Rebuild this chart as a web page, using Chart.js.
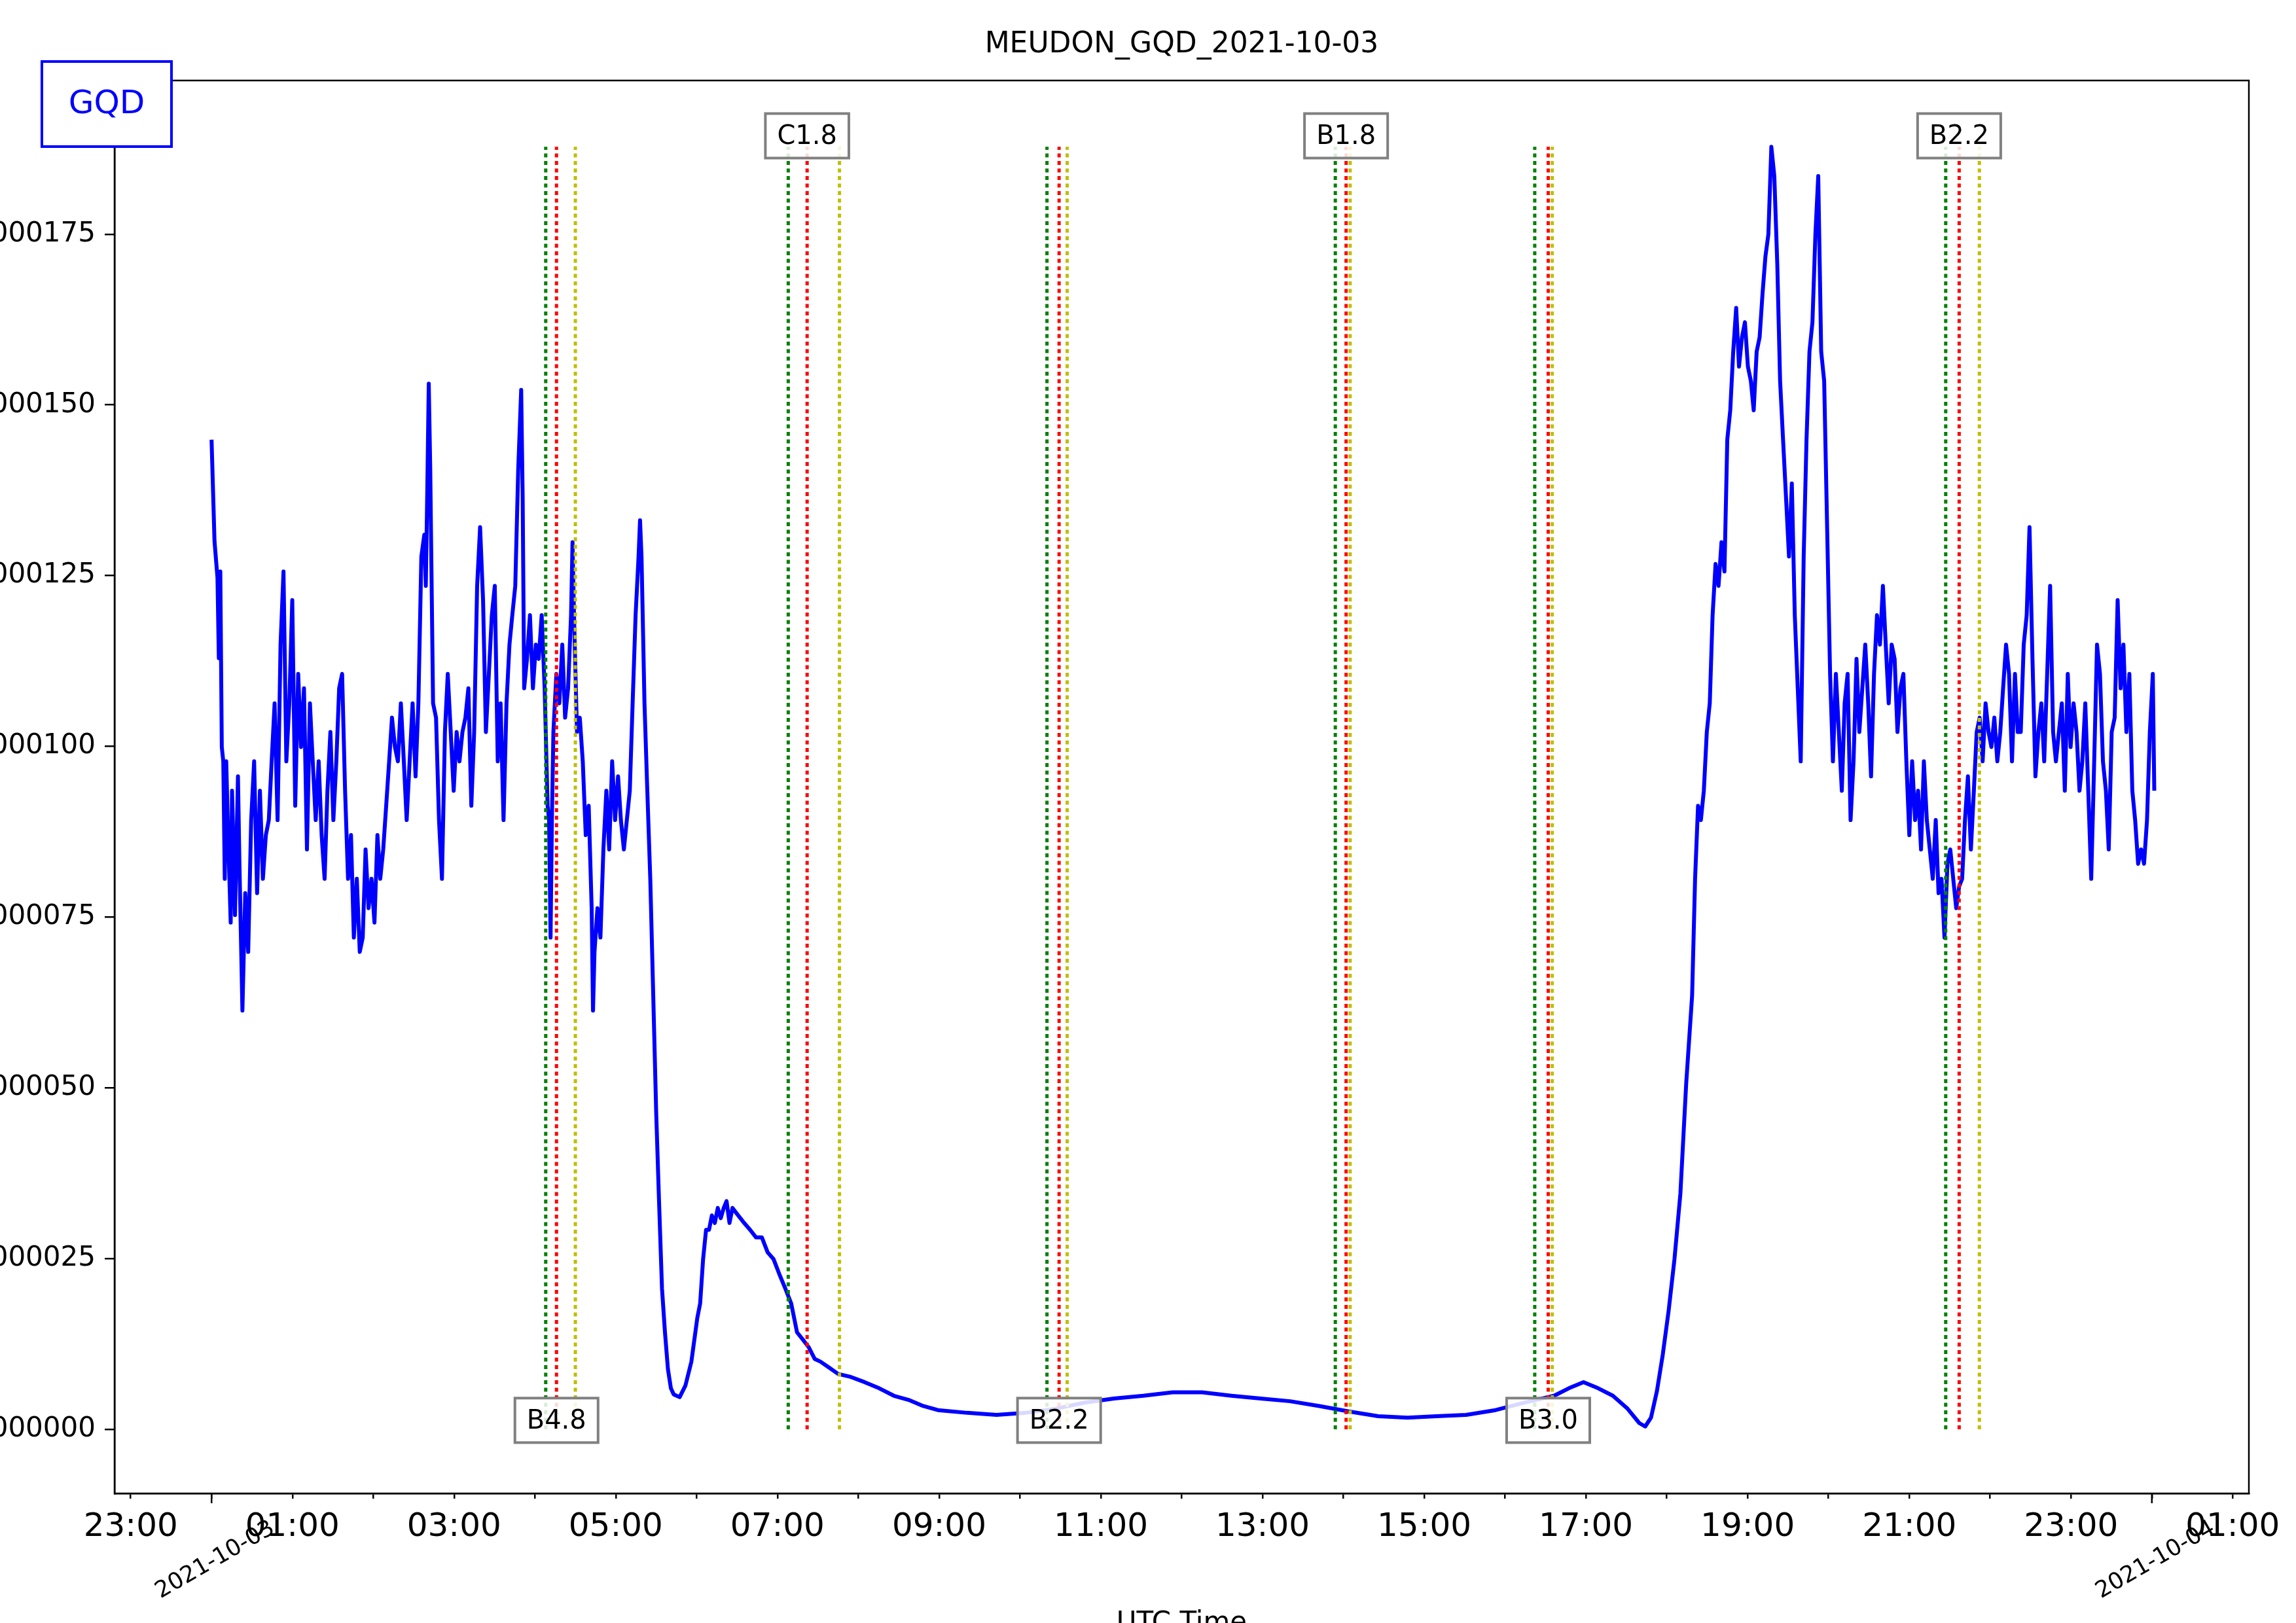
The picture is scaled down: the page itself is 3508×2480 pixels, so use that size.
<!DOCTYPE html>
<html><head><meta charset="utf-8">
<script src="https://cdn.jsdelivr.net/npm/chart.js@4/dist/chart.umd.min.js"></script>
<style>html,body{margin:0;padding:0;background:#fff}#wrap{width:3508px;height:2480px}</style>
</head><body><div id="wrap"><canvas id="c" width="3508" height="2480"></canvas></div>
<script>
// time in minutes since 2021-10-03 00:00 UTC
const timeMin = [0,2.2,4.4,5.4,6.5,7.6,8.7,9.8,10.9,12.0,14.2,15.2,16.3,17.4,19.6,20.7,22.9,25.0,27.2,29.4,31.6,33.8,35.9,38.1,40.3,42.5,44.6,46.8,49.0,51.2,53.4,55.5,57.7,59.9,62.1,64.3,66.4,68.6,70.8,73.0,75.1,77.3,79.5,81.7,83.9,86.0,88.2,90.4,92.6,94.7,96.9,99.1,101.3,103.5,105.6,107.8,110.0,112.2,114.3,116.5,118.7,120.9,123.1,125.2,127.4,129.6,131.8,133.9,136.1,138.3,140.5,142.7,144.8,147.0,149.2,151.4,153.5,155.7,157.9,159.0,160.1,161.2,162.3,164.4,166.6,168.8,171.0,173.2,175.3,177.5,179.7,181.9,184.0,186.2,188.4,190.6,192.8,194.9,197.1,199.3,201.5,203.6,205.8,208.0,210.2,212.4,214.5,216.7,218.9,221.1,223.2,225.4,227.6,229.8,230.9,232.0,234.1,236.3,238.5,240.7,242.8,245.0,247.2,249.4,250.5,251.6,252.6,253.7,255.9,258.1,260.3,262.4,264.6,266.8,267.9,269.0,271.2,273.3,275.5,277.7,279.9,282.1,283.1,284.2,286.4,288.6,290.8,293.0,295.1,297.3,299.5,301.7,303.8,306.0,308.2,310.4,312.5,314.7,316.9,318.0,319.1,321.3,323.4,325.6,327.8,330.0,332.1,334.3,336.5,338.7,340.9,343.0,347.4,351.7,356.1,360.5,362.6,364.8,367.0,369.2,371.3,373.5,375.7,377.9,380.1,382.2,384.4,386.6,390.9,395.3,399.7,404.0,408.4,412.7,417.1,421.4,425.8,430.2,434.5,438.9,443.2,447.6,451.9,458.5,465.0,473.7,484.6,495.5,506.4,517.3,528.2,539.1,560.8,582.6,604.4,626.2,648.0,669.7,691.5,713.3,735.1,756.9,778.6,800.4,822.2,844.0,865.8,887.5,909.3,931.1,952.9,974.7,996.4,1007.3,1018.2,1029.1,1040.0,1050.9,1059.6,1064.0,1068.3,1072.7,1077.0,1081.4,1085.7,1090.1,1094.4,1098.8,1101.0,1103.2,1105.3,1107.5,1109.7,1111.9,1114.0,1116.2,1118.4,1120.6,1122.8,1124.9,1127.1,1129.3,1131.5,1133.6,1135.8,1138.0,1140.2,1142.4,1144.5,1146.7,1148.9,1151.1,1153.2,1155.4,1157.6,1159.8,1162.0,1164.1,1166.3,1168.5,1170.7,1172.8,1175.0,1177.2,1179.4,1181.6,1183.7,1185.9,1188.1,1190.3,1192.4,1194.6,1196.8,1199.0,1201.2,1203.3,1205.5,1207.7,1209.9,1212.0,1214.2,1216.4,1218.6,1220.8,1222.9,1225.1,1227.3,1229.5,1231.6,1233.8,1236.0,1238.2,1240.4,1242.5,1244.7,1246.9,1249.1,1251.2,1253.4,1255.6,1257.8,1260.0,1262.1,1264.3,1266.5,1268.7,1270.8,1273.0,1275.2,1277.4,1279.6,1281.7,1283.9,1286.1,1288.3,1290.4,1292.6,1294.8,1297.0,1299.2,1301.3,1303.5,1305.7,1307.9,1310.0,1312.2,1314.4,1316.6,1318.8,1320.9,1323.1,1325.3,1327.5,1329.6,1331.8,1334.0,1336.2,1338.4,1340.5,1342.7,1344.9,1347.1,1349.2,1351.4,1353.6,1355.8,1358.0,1360.1,1362.3,1364.5,1366.7,1368.8,1371.0,1373.2,1375.4,1377.6,1379.7,1381.9,1384.1,1386.3,1388.4,1390.6,1392.8,1395.0,1397.2,1399.3,1401.5,1403.7,1405.9,1408.0,1410.2,1412.4,1414.6,1416.8,1418.9,1421.1,1423.3,1425.5,1427.6,1429.8,1432.0,1434.2,1436.4,1438.5,1440.7,1441.8];
// GQD signal, in units of 1e-6
const signalMicro = [144.9,130.0,124.7,112.9,125.6,99.9,97.8,80.6,97.8,89.2,74.2,93.5,84.9,75.3,95.6,82.8,61.3,78.5,69.9,89.2,97.8,78.5,93.5,80.6,87.0,89.2,97.8,106.3,89.2,114.9,125.6,97.8,106.3,121.4,91.3,110.6,99.9,108.5,84.9,106.3,97.8,89.2,97.8,87.0,80.6,93.5,102.1,89.2,97.8,108.5,110.6,93.5,80.6,87.0,72.0,80.6,69.9,72.0,84.9,76.3,80.6,74.2,87.0,80.6,84.9,91.3,97.8,104.2,99.9,97.8,106.3,97.8,89.2,97.8,106.3,95.6,106.3,127.8,131.0,123.5,137.4,153.1,140.6,106.3,104.2,89.2,80.6,102.1,110.6,102.1,93.5,102.1,97.8,102.1,104.2,108.5,91.3,102.1,123.5,132.1,121.4,102.1,110.6,119.2,123.5,97.8,106.3,89.2,106.3,114.9,119.2,123.5,140.6,152.2,136.4,108.5,112.8,119.2,108.5,114.9,112.8,119.2,108.5,91.3,89.2,72.0,89.2,102.1,110.6,106.3,114.9,104.2,108.5,119.2,129.9,119.2,102.1,104.2,97.8,87.0,91.3,76.3,61.3,69.9,76.3,72.0,84.9,93.5,84.9,97.8,89.2,95.6,89.2,84.9,89.2,93.5,106.3,119.2,127.8,133.1,127.8,106.3,93.5,80.6,63.5,46.3,33.4,20.6,14.2,8.8,6.0,5.1,4.7,6.4,9.9,16.3,18.4,24.9,29.2,29.2,31.3,30.2,32.4,30.9,32.4,33.4,30.2,32.4,31.3,30.2,29.2,28.1,28.1,25.9,24.9,22.7,20.6,18.4,14.2,13.1,12.0,10.3,9.9,9.0,8.1,7.7,6.9,6.0,4.9,4.3,3.4,2.8,2.4,2.1,2.4,3.0,3.9,4.5,4.9,5.4,5.4,4.9,4.5,4.1,3.4,2.6,1.9,1.7,1.9,2.1,2.8,3.9,4.9,6.0,6.9,6.0,4.9,3.0,0.9,0.4,1.7,5.6,10.9,17.4,24.9,34.5,50.6,63.5,80.6,91.3,89.2,93.5,102.1,106.3,119.2,126.7,123.5,129.9,125.6,144.9,149.2,157.8,164.2,155.6,159.9,162.1,155.6,153.5,149.2,157.8,159.9,166.4,171.7,175.0,187.8,183.5,170.7,153.5,144.9,136.4,127.8,138.5,119.2,108.5,97.8,127.8,144.9,157.8,162.1,175.0,183.5,157.8,153.5,132.1,110.6,97.8,110.6,102.1,93.5,106.3,110.6,89.2,97.8,112.8,102.1,108.5,114.9,106.3,95.6,110.6,119.2,114.9,123.5,114.9,106.3,114.9,112.8,102.1,108.5,110.6,97.8,87.0,97.8,89.2,93.5,84.9,97.8,89.2,84.9,80.6,89.2,78.5,80.6,72.0,82.8,84.9,80.6,76.3,79.5,80.6,89.2,95.6,84.9,93.5,102.1,104.2,97.8,106.3,102.1,99.9,104.2,97.8,102.1,108.5,114.9,110.6,97.8,110.6,102.1,102.1,114.9,119.2,132.1,112.8,95.6,102.1,106.3,97.8,110.6,123.5,102.1,97.8,102.1,106.3,93.5,110.6,99.9,106.3,102.1,93.5,97.8,106.3,93.5,80.6,97.8,114.9,110.6,97.8,93.5,84.9,102.1,104.2,121.4,108.5,114.9,102.1,110.6,93.5,89.2,82.8,84.9,82.8,89.2,102.1,110.6,93.5];
// Flare events: start (green), peak (red), end (yellow) in minutes; label and label placement
const flareClass = ['B4.8','C1.8','B2.2','B1.8','B3.0','B2.2'];
const flareStart = [248,428,620,834,982,1287];
const flarePeak  = [256,442,629,842,992,1297];
const flareEnd   = [270,466,635,845,995,1312];
const flareLabelPos = ['bottom','top','bottom','top','bottom','top'];
const yTicksMicro = [0,25,50,75,100,125,150,175];
const hourTicks = [-60,0,60,120,180,240,300,360,420,480,540,600,660,720,780,840,900,960,1020,1080,1140,1200,1260,1320,1380,1440,1500];
const dayLabels = ['2021-10-03','2021-10-04'];
const dayTicks = [0,1440];

const FONT = "'DejaVu Sans', sans-serif";
const points = timeMin.map((t,i)=>({x:t,y:signalMicro[i]}));

const deco = {
  id:'deco',
  afterDraw(chart){
    const ctx=chart.ctx, xs=chart.scales.x, ys=chart.scales.y, a=chart.chartArea;
    ctx.save();
    const lineTop = ys.getPixelForValue(187.8), lineBot = ys.getPixelForValue(0);
    const drawV=(t,col)=>{const x=xs.getPixelForValue(t);ctx.strokeStyle=col;ctx.lineWidth=5;ctx.setLineDash([6,5.5]);ctx.beginPath();ctx.moveTo(x,lineBot);ctx.lineTo(x,lineTop);ctx.stroke();};
    for(let i=0;i<flareClass.length;i++){drawV(flareStart[i],'#008000');drawV(flarePeak[i],'#ff0000');drawV(flareEnd[i],'#bfbf00');}
    ctx.setLineDash([]);
    ctx.font='40px '+FONT;ctx.textAlign='center';ctx.textBaseline='middle';
    for(let i=0;i<flareClass.length;i++){
      const x=xs.getPixelForValue(flarePeak[i]);
      const y=flareLabelPos[i]==='top'?ys.getPixelForValue(189.4):ys.getPixelForValue(1.3);
      const w=ctx.measureText(flareClass[i]).width+36, h=68;
      ctx.fillStyle='rgba(255,255,255,0.85)';ctx.fillRect(x-w/2,y-h/2,w,h);
      ctx.strokeStyle='#808080';ctx.lineWidth=4;ctx.strokeRect(x-w/2,y-h/2,w,h);
      ctx.fillStyle='#000';ctx.fillText(flareClass[i],x,y+2);
    }
    ctx.strokeStyle='#000';ctx.lineWidth=2.5;ctx.strokeRect(a.left,a.top,a.right-a.left,a.bottom-a.top);
    ctx.lineWidth=2.5;
    for(let i=0;i<dayTicks.length;i++){
      const x=xs.getPixelForValue(dayTicks[i]);
      ctx.beginPath();ctx.moveTo(x,a.bottom);ctx.lineTo(x,a.bottom+15);ctx.stroke();
      ctx.save();ctx.translate(x+85,a.bottom+36);ctx.rotate(-Math.PI/6);
      ctx.font='35px '+FONT;ctx.textAlign='right';ctx.textBaseline='top';ctx.fillStyle='#000';
      ctx.fillText(dayLabels[i],0,0);ctx.restore();
    }
    ctx.fillStyle='#000';ctx.font='44px '+FONT;ctx.textAlign='center';ctx.textBaseline='middle';
    ctx.fillText('MEUDON_GQD_2021-10-03',(a.left+a.right)/2,69);
    ctx.font='42px '+FONT;ctx.textBaseline='top';
    ctx.fillText('UTC Time',(a.left+a.right)/2,2460);
    ctx.fillStyle='#fff';ctx.fillRect(64,94,198,130);
    ctx.strokeStyle='#0000ff';ctx.lineWidth=4;ctx.strokeRect(64,94,198,130);
    ctx.fillStyle='#0000ff';ctx.font='50px '+FONT;ctx.textBaseline='middle';
    ctx.fillText('GQD',163,160);
    ctx.restore();
  }
};

new Chart(document.getElementById('c'),{
  type:'line',
  data:{datasets:[{data:points,borderColor:'#0000ff',borderWidth:6,pointRadius:0,tension:0,fill:false,borderJoinStyle:'round'}]},
  options:{
    responsive:false,animation:false,devicePixelRatio:1,
    layout:{padding:{left:0,right:72,top:123,bottom:0}},
    plugins:{legend:{display:false},tooltip:{enabled:false}},
    scales:{
      x:{type:'linear',min:-72,max:1512,
        afterBuildTicks(s){s.ticks=hourTicks.map(v=>({value:v}));},
        afterFit(s){s.height=198;},
        grid:{drawOnChartArea:false,tickLength:8,color:'#000',lineWidth:2.5},
        border:{color:'#000',width:2.5},
        ticks:{autoSkip:false,maxRotation:0,minRotation:0,padding:14,color:'#000',font:{family:FONT,size:50},
          callback(v){const h=((v/60)%24+24)%24; return h%2===1?String(h).padStart(2,'0')+':00':'';}}},
      y:{type:'linear',min:-9.4,max:197.5,
        afterBuildTicks(s){s.ticks=yTicksMicro.map(v=>({value:v}));},
        afterFit(s){s.width=175;},
        grid:{drawOnChartArea:false,tickLength:15,color:'#000',lineWidth:2.5},
        border:{color:'#000',width:2.5},
        ticks:{padding:14,color:'#000',font:{family:FONT,size:42},callback(v){return (v/1e6).toFixed(6);}}}
    }
  },
  plugins:[deco]
});
</script></body></html>
